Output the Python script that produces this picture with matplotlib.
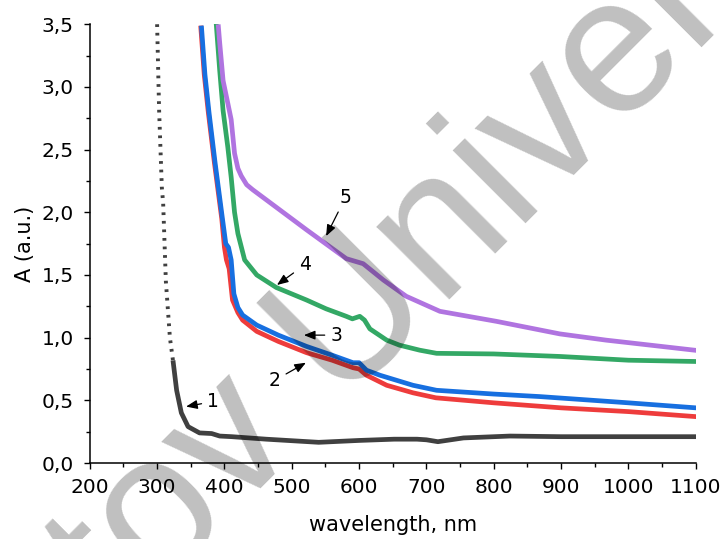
import matplotlib
matplotlib.use("Agg")
import matplotlib.pyplot as plt
from matplotlib.ticker import MultipleLocator, FuncFormatter

plt.rcParams['font.family'] = ['DejaVu Sans']

# ---- data ----
wl1 = [300, 303, 307, 309, 313, 319, 324, 329, 336, 346, 363, 381, 393, 411, 462,
       540, 600, 652, 686, 700, 717, 755, 824, 900, 1000, 1100]
a1 = [3.50, 2.81, 2.20, 2.07, 1.45, 1.00, 0.80, 0.58, 0.40, 0.29, 0.24, 0.235, 0.215,
      0.21, 0.19, 0.165, 0.18, 0.19, 0.19, 0.185, 0.17, 0.20, 0.215, 0.21, 0.21, 0.21]

wl2 = [365, 370, 376, 385, 396, 400, 403, 407, 412, 420, 427, 448, 480, 522, 560,
       591, 600, 611, 641, 680, 714, 800, 900, 1000, 1100]
a2 = [3.47, 3.10, 2.80, 2.40, 1.95, 1.72, 1.62, 1.55, 1.30, 1.20, 1.14, 1.05, 0.97,
      0.88, 0.82, 0.76, 0.75, 0.70, 0.62, 0.56, 0.52, 0.48, 0.44, 0.41, 0.37]

wl3 = [366, 371, 377, 386, 397, 402, 406, 410, 414, 420, 427, 448, 480, 522, 560,
       591, 600, 611, 631, 680, 715, 800, 868, 1000, 1100]
a3 = [3.47, 3.10, 2.80, 2.40, 1.95, 1.75, 1.72, 1.62, 1.35, 1.24, 1.18, 1.10, 1.02,
      0.93, 0.86, 0.80, 0.80, 0.74, 0.70, 0.62, 0.58, 0.55, 0.53, 0.48, 0.44]

wl4 = [388, 393, 398, 405, 410, 415, 420, 430, 448, 477, 522, 551, 581, 590, 601,
       608, 616, 641, 660, 690, 715, 800, 898, 1000, 1098]
a4 = [3.49, 3.13, 2.81, 2.52, 2.28, 2.00, 1.83, 1.62, 1.50, 1.40, 1.30, 1.23, 1.17,
      1.15, 1.17, 1.14, 1.07, 0.98, 0.94, 0.90, 0.875, 0.87, 0.85, 0.82, 0.81]

wl5 = [391, 393, 398, 405, 410, 415, 420, 425, 433, 442, 467, 497, 522, 581, 606,
       636, 670, 720, 804, 898, 967, 1000, 1098]
a5 = [3.48, 3.35, 3.05, 2.87, 2.74, 2.47, 2.35, 2.29, 2.22, 2.18, 2.08, 1.96, 1.86,
      1.63, 1.59, 1.46, 1.33, 1.21, 1.13, 1.03, 0.98, 0.96, 0.90]

labels = ["1", "2", "3", "4", "5"]
label_text_pos = [(383, 0.49), (475, 0.66), (566, 1.02), (519, 1.58), (580, 2.12)]
label_tip_pos = [(343, 0.45), (521, 0.80), (518, 1.02), (478, 1.42), (551, 1.81)]

colors = ["#404040", "#EE3C3C", "#176FE0", "#33A865", "#B074E0"]

xticks = [200, 300, 400, 500, 600, 700, 800, 900, 1000, 1100]
yticks = [0.0, 0.5, 1.0, 1.5, 2.0, 2.5, 3.0, 3.5]

# ---- figure ----
fig = plt.figure(figsize=(7.24, 5.39), dpi=100)
ax = fig.add_axes([0.124, 0.141, 0.837, 0.814])

lw = 3.4
n_steep = 6
ax.plot(wl1[:n_steep + 1], a1[:n_steep + 1], color=colors[0], lw=2.8,
        linestyle=(0, (0.7, 1.5)), solid_capstyle='butt', zorder=3)
ax.plot(wl1[n_steep:], a1[n_steep:], color=colors[0], lw=lw, zorder=3,
        solid_joinstyle='round')
ax.plot(wl2, a2, color=colors[1], lw=lw, zorder=3, solid_joinstyle='round')
ax.plot(wl3, a3, color=colors[2], lw=lw, zorder=4, solid_joinstyle='round')
ax.plot(wl4, a4, color=colors[3], lw=lw, zorder=3, solid_joinstyle='round')
ax.plot(wl5, a5, color=colors[4], lw=lw, zorder=3, solid_joinstyle='round')

for lab, tp, tip in zip(labels, label_text_pos, label_tip_pos):
    ax.annotate(lab, xy=tip, xytext=tp, ha='center', va='center', fontsize=13.5,
                arrowprops=dict(arrowstyle='-|>,head_length=0.5,head_width=0.2',
                                color='black', lw=0.9, shrinkA=2, shrinkB=0),
                zorder=6)

ax.set_xlim(200, 1100)
ax.set_ylim(0, 3.5)
ax.set_xticks(xticks)
ax.set_yticks(yticks)
ax.xaxis.set_minor_locator(MultipleLocator(50))
ax.yaxis.set_minor_locator(MultipleLocator(0.25))
ax.yaxis.set_major_formatter(FuncFormatter(lambda v, p: f"{v:.1f}".replace('.', ',')))
ax.xaxis.set_major_formatter(FuncFormatter(lambda v, p: f"{int(round(v))}"))

for s in ['top', 'right']:
    ax.spines[s].set_visible(False)
for s in ['left', 'bottom']:
    ax.spines[s].set_linewidth(1.1)

ax.tick_params(which='major', direction='out', length=4.5, width=1.0, labelsize=14.5)
ax.tick_params(axis='x', which='major', pad=6)
ax.tick_params(axis='y', which='major', pad=7)
ax.tick_params(which='minor', direction='out', length=2.6, width=1.0)

ax.set_xlabel("wavelength, nm", fontsize=15, labelpad=13)
ax.set_ylabel("A (a.u.)", fontsize=15, labelpad=5)

# watermark
fig.text(0.593, 0.406, "tov Univer", rotation=45, rotation_mode='anchor',
         ha='center', va='baseline', fontsize=140, color='black', alpha=0.25,
         family='Liberation Sans', zorder=10)

fig.savefig("out.png", dpi=100)
